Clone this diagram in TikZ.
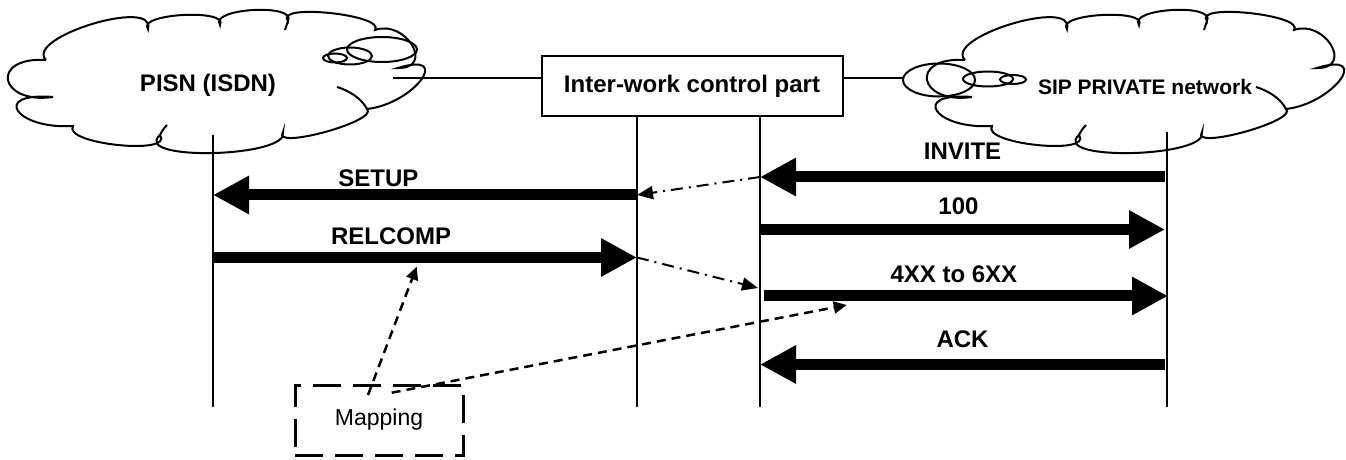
\documentclass[tikz,border=0pt]{standalone}
\usepackage{fontspec}
\setmainfont{Liberation Sans}
\usetikzlibrary{arrows.meta, positioning}

\tikzset{
    pics/netcloud/.style={code={
        \draw[line width=1pt] (46,60) .. controls (24,37.4) and (156.6,-3) .. (148,29)
            .. controls (135.9,13.6) and (229.5,8.4) .. (220,25)
            .. controls (208.5,8.3) and (296.9,3.1) .. (288,21)
            .. controls (273,3) and (386,14.7) .. (375,30)
            .. controls (405.5,19) and (435.5,68.4) .. (398,68)
            .. controls (454,50.5) and (413.7,103.9) .. (367,109)
            .. controls (379.6,120.9) and (270.4,150.8) .. (283,132)
            .. controls (290.2,157.6) and (130.3,161.5) .. (160,135)
            .. controls (175,155.7) and (62,144) .. (73,126)
            .. controls (16,129.7) and (-10,92) .. (53,97)
            .. controls (-1.3,104.6) and (-10.4,56.5) .. (46,60);
        % inner hooks
        \draw[line width=1pt] (337,87) .. controls (350,91) and (362,99) .. (367,109);
        \draw[line width=1pt] (160,135) .. controls (162,131) and (164,128) .. (167,125);
        \draw[line width=1pt] (288,21) .. controls (287,24) and (286,27) .. (285,30);
    }}
}

\begin{document}
\begin{tikzpicture}[
    x=0.5pt, y=-0.5pt,
    life/.style={line width=1pt},
    ctrlbox/.style={rectangle, draw, line width=1pt, minimum width=150.5pt, minimum height=30pt, font=\bfseries\fontsize{12}{14}\selectfont},
    mapbox/.style={rectangle, draw, line width=1.5pt, dash pattern=on 14pt off 6pt, minimum width=84pt, minimum height=35pt, font=\fontsize{11.5}{13}\selectfont},
    msg/.style={line width=5.5pt, -{Triangle[length=18pt,width=18pt]}},
    msglbl/.style={anchor=base, font=\bfseries\fontsize{12}{14}\selectfont},
    relay/.style={line width=1pt, dash pattern=on 6pt off 3pt on 1pt off 3pt, -{Triangle[length=8pt,width=6.5pt]}},
    maplink/.style={line width=1.25pt, dash pattern=on 4.5pt off 3pt, -{Triangle[length=6.5pt,width=6pt]}}
]
\useasboundingbox (0,0) rectangle (1346,460);

% Networks
\pic at (0,0) {netcloud};
\pic at (919,0) {netcloud};
\draw[life] (382,49.5) ellipse [x radius=35, y radius=12.5];
\draw[life] (350,56) ellipse [x radius=22, y radius=8.5];
\draw[life] (335,58) ellipse [x radius=12, y radius=4.5];
\draw[life] (939,80) ellipse [x radius=36, y radius=16.5];
\draw[life] (988,79) ellipse [x radius=25, y radius=7.5];
\draw[life] (1013,79.5) ellipse [x radius=13, y radius=4.5];
\node[font=\bfseries\fontsize{12}{14}\selectfont] (pisn) at (208,85) {PISN (ISDN)};
\node[font=\bfseries\fontsize{10.5}{12}\selectfont] (sip) at (1145,87) {SIP PRIVATE network};

% Inter-work box
\node[ctrlbox] (iwf) at (692,86) {Inter-work control part};
\coordinate (pisnport) at (393,78);
\coordinate (sipport) at (903,78);
\draw[life] (pisnport) -- (iwf.west |- pisnport);
\draw[life] (iwf.east |- sipport) -- (sipport);

% Lifelines
\coordinate (pisnTop) at (213,135);
\coordinate (pisnEnd) at (213,407);
\coordinate (iwfLTop) at (637,116);
\coordinate (iwfLEnd) at (637,407);
\coordinate (iwfRTop) at (760,116);
\coordinate (iwfREnd) at (760,407);
\coordinate (sipTop) at (1166.5,132);
\coordinate (sipEnd) at (1166.5,407);
\draw[life] (pisnTop) -- (pisnEnd);
\draw[life] (iwfLTop) -- (iwfLEnd);
\draw[life] (iwfRTop) -- (iwfREnd);
\draw[life] (sipTop) -- (sipEnd);

% Message end points
\coordinate (inviteS) at (1165,177);
\coordinate (inviteE) at (760,177);
\coordinate (setupS) at (637,195);
\coordinate (setupE) at (213,195);
\coordinate (tryingS) at (760,229.5);
\coordinate (tryingE) at (1165,229.5);
\coordinate (relS) at (213,257.5);
\coordinate (relE) at (637,257.5);
\coordinate (failS) at (764,296);
\coordinate (failE) at (1168,296);
\coordinate (ackS) at (1165,364.5);
\coordinate (ackE) at (760,364.5);

% Messages
\draw[msg] (inviteS) -- node[msglbl, pos=0.5, yshift=8.5pt] {INVITE} (inviteE);
\draw[msg] (setupS) -- node[msglbl, pos=0.61, yshift=4pt] {SETUP} (setupE);
\draw[msg] (tryingS) -- node[msglbl, pos=0.49, yshift=7.25pt] {100} (tryingE);
\draw[msg] (relS) -- node[msglbl, pos=0.42, yshift=6.25pt] {RELCOMP} (relE);
\draw[msg] (failS) -- node[msglbl, pos=0.47, yshift=6.5pt] {4XX to 6XX} (failE);
\draw[msg] (ackS) -- node[msglbl, pos=0.5, yshift=8.75pt] {ACK} (ackE);

% Inter-working
\coordinate (relayEnd) at (758,288);
\draw[relay] (inviteE) -- (setupS);
\draw[relay] (relE) -- (relayEnd);

% Mapping
\node[mapbox] (map) at (379,420) {Mapping};
\coordinate (mapA) at (368,395);
\coordinate (mapB) at (391.7,392.7);
\coordinate (relMap) at (416.7,266.7);
\coordinate (failMap) at (846.7,305);
\draw[maplink] (mapA) -- (relMap);
\draw[maplink] (mapB) -- (failMap);

\end{tikzpicture}
\end{document}
